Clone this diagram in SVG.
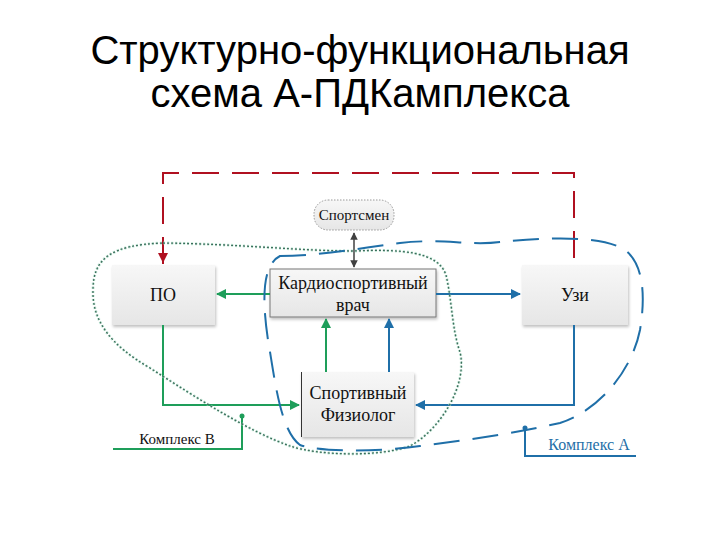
<svg xmlns="http://www.w3.org/2000/svg" width="720" height="540" viewBox="0 0 720 540">
<style>
.title{font-family:"Liberation Sans",Arial,sans-serif;font-size:40px;fill:#000;text-anchor:middle}
.lbl{font-family:"Liberation Serif","DejaVu Serif","Times New Roman",serif;font-size:18px;fill:#111;text-anchor:middle}
.sm{font-size:15px}
.g{stroke:#1e9e5a;stroke-width:2;fill:none}
.b{stroke:#1f6fa8;stroke-width:2;fill:none}
.box{fill:url(#grad);filter:url(#sh)}
</style>
<defs>
<linearGradient id="grad" x1="0" y1="0" x2="0" y2="1">
<stop offset="0" stop-color="#f7f7f7"/>
<stop offset="1" stop-color="#e6e6e6"/>
</linearGradient>
<filter id="sh" x="-10%" y="-10%" width="125%" height="130%">
<feGaussianBlur in="SourceAlpha" stdDeviation="1.5"/>
<feOffset dx="1" dy="2" result="o"/>
<feComponentTransfer><feFuncA type="linear" slope="0.25"/></feComponentTransfer>
<feMerge><feMergeNode/><feMergeNode in="SourceGraphic"/></feMerge>
</filter>
<marker id="ag" viewBox="0 0 10 10" refX="9" refY="5" markerWidth="5" markerHeight="5" orient="auto"><path d="M0 0L10 5L0 10z" fill="#1e9e5a"/></marker>
<marker id="ab" viewBox="0 0 10 10" refX="9" refY="5" markerWidth="5" markerHeight="5" orient="auto"><path d="M0 0L10 5L0 10z" fill="#1f6fa8"/></marker>
<marker id="ar" viewBox="0 0 10 10" refX="9" refY="5" markerWidth="5" markerHeight="5" orient="auto"><path d="M0 0L10 5L0 10z" fill="#b01020"/></marker>
<marker id="ak" viewBox="0 0 10 10" refX="9" refY="5" markerWidth="5" markerHeight="5" orient="auto-start-reverse"><path d="M0 0L10 5L0 10z" fill="#404040"/></marker>
</defs>
<rect width="720" height="540" fill="#fff"/>
<g id="title">
<text class="title" x="360" y="64">Структурно-функциональная</text>
<text class="title" x="360" y="107">схема А-ПДКамплекса</text>
</g>
<g id="nodes">
<g id="po"><rect class="box" x="112" y="265" width="103" height="60"/><text class="lbl" x="163" y="301">ПО</text></g>
<g id="uzi"><rect class="box" x="522" y="265" width="106" height="60"/><text class="lbl" x="575" y="301">Узи</text></g>
<g id="sportsmen"><rect x="314" y="200" width="80" height="30" rx="14" fill="url(#grad)" stroke="#999" stroke-width="1" stroke-dasharray="1.5 1.5"/><text class="lbl sm" x="354" y="220">Спортсмен</text></g>
<g id="kardio"><rect class="box" x="270" y="269" width="166" height="48" stroke="#777" stroke-width="1"/><text class="lbl" x="353" y="289">Кардиоспортивный</text><text class="lbl" x="353" y="311">врач</text></g>
<g id="fiziolog"><rect class="box" x="301" y="372" width="113" height="65"/><line x1="301.5" y1="372" x2="301.5" y2="437" stroke="#333" stroke-width="1"/><text class="lbl" x="358" y="399">Спортивный</text><text class="lbl" x="358" y="421">Физиолог</text></g>
</g>
<g id="connectors">
<path d="M163 264V173H574V264" fill="none" stroke="#b01020" stroke-width="2" stroke-dasharray="27 13"/>
<path d="M163 250V262" stroke="#b01020" stroke-width="2" marker-end="url(#ar)"/>
<path d="M354 233V267" stroke="#404040" stroke-width="1.5" marker-start="url(#ak)" marker-end="url(#ak)"/>
<path class="g" d="M270 294H217" marker-end="url(#ag)"/>
<path class="b" d="M436 294H520" marker-end="url(#ab)"/>
<path class="g" d="M163 325V405H299" marker-end="url(#ag)"/>
<path class="b" d="M574 325V405H416" marker-end="url(#ab)"/>
<path class="g" d="M326 372V319" marker-end="url(#ag)"/>
<path class="b" d="M389 372V319" marker-end="url(#ab)"/>
<path class="g" d="M113 449H242V416"/>
<circle cx="242" cy="416" r="2.5" fill="#1e9e5a"/>
<path class="b" d="M525 428V456H636"/>
<circle cx="525" cy="428" r="2.5" fill="#1f6fa8"/>
<path d="M163 243C240 244 300 251 354 251C400 249 438 251 446 275C452 300 452 330 460 352C468 385 440 430 410 446C380 457 320 456 290 446C250 432 200 400 150 368C110 345 92 320 93 290C93 258 112 245 163 243Z" fill="none" stroke="#9ee0c0" stroke-width="3" stroke-dasharray="2 2" opacity="0.6"/>
<path d="M163 243C240 244 300 251 354 251C400 249 438 251 446 275C452 300 452 330 460 352C468 385 440 430 410 446C380 457 320 456 290 446C250 432 200 400 150 368C110 345 92 320 93 290C93 258 112 245 163 243Z" fill="none" stroke="#3d6b5c" stroke-width="1.3" stroke-dasharray="2 2"/>
<path d="M280 256C320 256 360 248 400 243C440 238 470 246 500 242C540 238 600 234 625 250C645 265 645 300 640 330C632 370 600 410 560 423C520 432 470 440 420 446C380 452 320 452 300 445C280 430 275 380 268 340C262 300 262 265 280 256Z" fill="none" stroke="#1f6fa8" stroke-width="2" stroke-dasharray="26 13"/>
</g>
<g id="labels">
<text class="lbl sm" x="177" y="444">Комплекс В</text>
<text class="lbl sm" x="589" y="450" style="fill:#1f6fa8;font-size:16px">Комплекс А</text>
</g>
</svg>
